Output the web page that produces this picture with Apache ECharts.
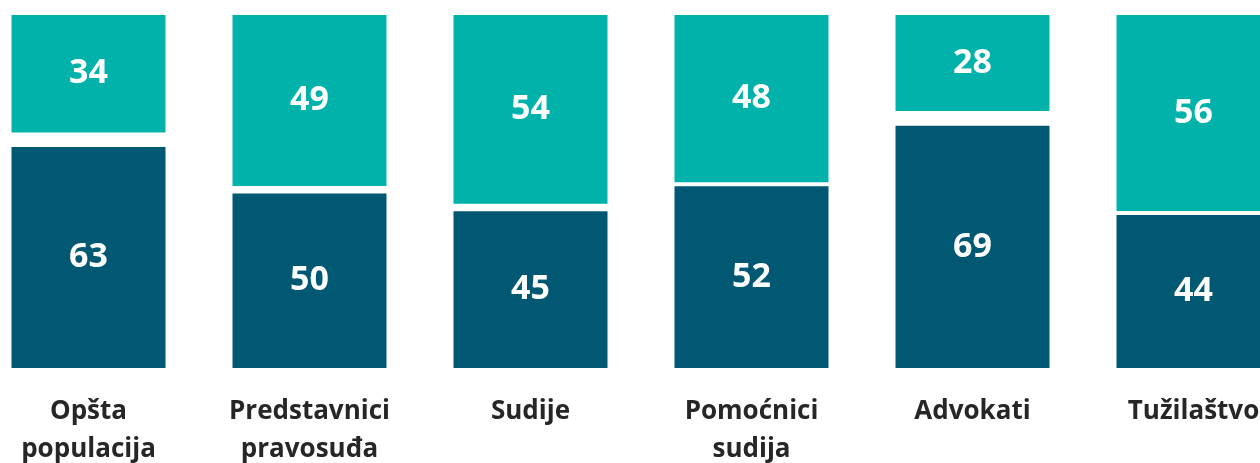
<!DOCTYPE html>
<html>
<head>
    <meta charset="utf-8" />
    <title></title>
    <script type="text/javascript" src="https://cdn.jsdelivr.net/npm/echarts@6/dist/echarts.min.js"></script>
    <style>
        html, body { margin: 0; padding: 0; background: #fff; }
        #con1 { width: 1260px; height: 463px; }
    </style>
</head>
<body>
    <div id="con1"></div>
    <script type="text/javascript">
        var categories = ["Opšta\npopulacija", "Predstavnici\npravosuđa", "Sudije", "Pomoćnici\nsudija", "Advokati", "Tužilaštvo"];
        var darkValues = [63, 50, 45, 52, 69, 44];
        var restValues = [3, 1, 1, 0, 3, 0];   // ostatak do 100 (bijeli razmak)
        var tealValues = [34, 49, 54, 48, 28, 56];

        var myChart = echarts.init(document.getElementById("con1"));
        var fnt = "'Open Sans', sans-serif";
        var valLabel = {
            show: true,
            position: 'inside',
            color: '#fff',
            fontSize: 34,
            fontWeight: 'bold',
            fontFamily: fnt
        };
        var option = {
            animation: false,
            backgroundColor: '#fff',
            grid: {
                left: -22,
                right: -44,
                top: 13,
                bottom: 93,
                containLabel: false,
                outerBoundsMode: 'none'
            },
            xAxis: {
                type: 'category',
                data: categories,
                axisLine: { show: false },
                axisTick: { show: false },
                axisLabel: {
                    interval: 0,
                    margin: 23,
                    color: '#262626',
                    fontSize: 26,
                    fontWeight: 'bold',
                    fontFamily: fnt,
                    lineHeight: 38
                }
            },
            yAxis: {
                type: 'value',
                min: 0,
                max: 100,
                show: false,
                splitLine: { show: false }
            },
            series: [{
                type: 'bar',
                stack: 'a',
                data: darkValues,
                barWidth: 158,
                itemStyle: { color: '#005873', borderColor: '#fff', borderWidth: 2 },
                label: valLabel
            }, {
                type: 'bar',
                stack: 'a',
                data: restValues,
                itemStyle: { color: '#fff', borderColor: '#fff', borderWidth: 2 },
                label: { show: false }
            }, {
                type: 'bar',
                stack: 'a',
                data: tealValues,
                itemStyle: { color: '#00b2a9', borderColor: '#fff', borderWidth: 2 },
                label: valLabel
            }]
        };
        option && myChart.setOption(option);
    </script>
</body>
</html>
